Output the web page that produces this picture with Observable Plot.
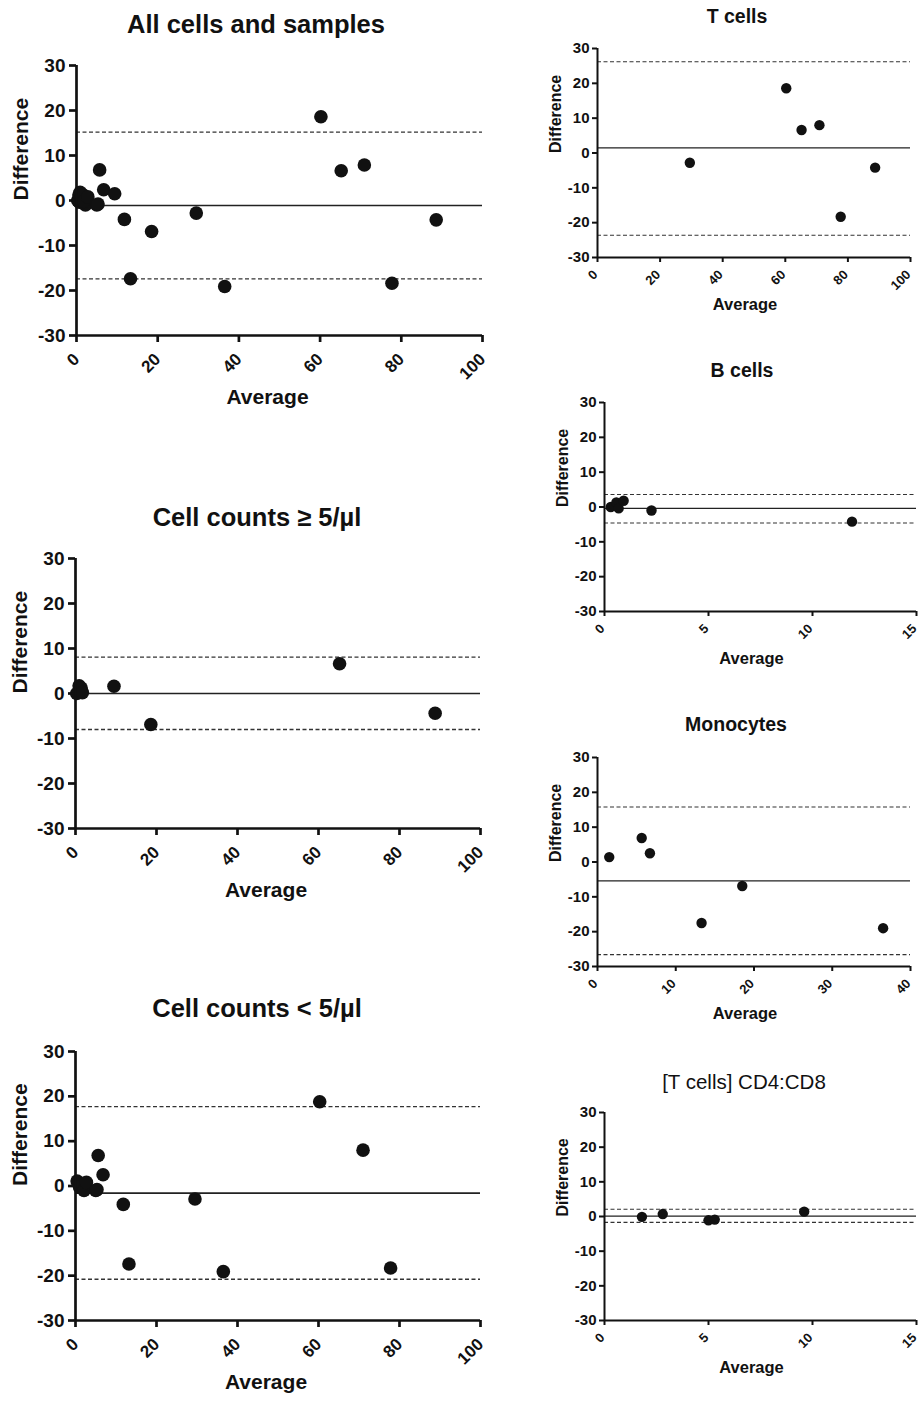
<!DOCTYPE html>
<html><head><meta charset="utf-8">
<script src="https://cdn.jsdelivr.net/npm/d3@7"></script>
<script src="https://cdn.jsdelivr.net/npm/@observablehq/plot@0.6"></script>
<style>
body{margin:0;background:#fff;}
#root{position:relative;width:922px;height:1402px;font-family:"Liberation Sans",Arial,sans-serif;color:#111;overflow:hidden;}
.title{position:absolute;transform:translate(-50%,-50%);font-weight:bold;white-space:nowrap;line-height:1;}
.panel{position:absolute;}
</style></head><body><div id="root"></div>
<script>
// ---- data ----
const panelTitles = ["All cells and samples", "Cell counts \u2265 5/\u00b5l", "Cell counts < 5/\u00b5l", "T cells", "B cells", "Monocytes", "[T cells] CD4:CD8"];

const allAvg  = [29.5, 60.2, 65.2, 70.9, 77.7, 88.6, 1.5, 5.7, 6.7, 13.3, 18.5, 36.5, 0.3, 0.6, 0.7, 0.9, 2.2, 11.8, 1.8, 2.8, 5.0, 5.3, 9.4];
const allDiff = [-2.8, 18.6, 6.6, 7.9, -18.4, -4.3, 1.3, 6.8, 2.4, -17.4, -6.9, -19.1, 0.0, 1.2, -0.4, 1.8, -1.0, -4.2, -0.2, 0.8, -1.0, -0.8, 1.5];
const allLines = [-1.1, 15.2, -17.4];

const hiAvg  = [0.3, 0.9, 1.4, 1.7, 9.5, 18.6, 65.2, 88.8];
const hiDiff = [0.0, 1.7, 1.2, 0.2, 1.6, -6.9, 6.6, -4.4];
const hiLines = [0.0, 8.1, -8.0];

const loAvg  = [0.4, 1.0, 2.1, 2.7, 5.0, 5.3, 5.6, 6.8, 11.8, 13.2, 29.5, 36.5, 60.3, 71.0, 77.8];
const loDiff = [1.1, -0.2, -1.0, 0.8, -1.0, -0.8, 6.8, 2.5, -4.1, -17.4, -2.9, -19.1, 18.8, 8.0, -18.3];
const loLines = [-1.6, 17.7, -20.8];

const tAvg  = [29.5, 60.3, 65.2, 70.9, 77.7, 88.7];
const tDiff = [-2.8, 18.6, 6.6, 8.0, -18.3, -4.2];
const tLines = [1.5, 26.2, -23.6];

const bAvg  = [0.3, 0.57, 0.68, 0.92, 2.26, 11.9];
const bDiff = [0.0, 1.3, -0.4, 1.8, -1.0, -4.2];
const bLines = [-0.4, 3.6, -4.6];

const mAvg  = [1.5, 5.65, 6.7, 13.3, 18.5, 36.5];
const mDiff = [1.4, 6.9, 2.5, -17.5, -6.9, -19.0];
const mLines = [-5.4, 15.8, -26.6];

const cAvg  = [1.8, 2.8, 5.0, 5.3, 9.6];
const cDiff = [-0.1, 0.7, -1.1, -0.9, 1.4];
const cLines = [0.1, 2.1, -1.7];

const yTicks = [-30, -20, -10, 0, 10, 20, 30];
const xTicks100 = [0, 20, 40, 60, 80, 100];
const xTicks40 = [0, 10, 20, 30, 40];
const xTicks15 = [0, 5, 10, 15];

// ---- layout ----
const panels = [
  {title: panelTitles[0], avg: allAvg, diff: allDiff, lines: allLines, xmax: 100, xticks: xTicks100, big: true,
   x0: 76, x1: 482, y0: 65, y1: 335, tx: 256, ty: 25},
  {title: panelTitles[1], avg: hiAvg, diff: hiDiff, lines: hiLines, xmax: 100, xticks: xTicks100, big: true,
   x0: 75, x1: 480, y0: 558, y1: 828, tx: 257, ty: 518},
  {title: panelTitles[2], avg: loAvg, diff: loDiff, lines: loLines, xmax: 100, xticks: xTicks100, big: true,
   x0: 75, x1: 480, y0: 1051, y1: 1320, tx: 257, ty: 1009},
  {title: panelTitles[3], avg: tAvg, diff: tDiff, lines: tLines, xmax: 100, xticks: xTicks100, big: false,
   x0: 597, x1: 910, y0: 48, y1: 257, tx: 737, ty: 17},
  {title: panelTitles[4], avg: bAvg, diff: bDiff, lines: bLines, xmax: 15, xticks: xTicks15, big: false,
   x0: 604, x1: 916, y0: 402, y1: 611, tx: 742, ty: 371},
  {title: panelTitles[5], avg: mAvg, diff: mDiff, lines: mLines, xmax: 40, xticks: xTicks40, big: false,
   x0: 597, x1: 910, y0: 757, y1: 966, tx: 736, ty: 725},
  {title: panelTitles[6], avg: cAvg, diff: cDiff, lines: cLines, xmax: 15, xticks: xTicks15, big: false, light: true,
   x0: 604, x1: 916, y0: 1112, y1: 1320, tx: 744, ty: 1082}
];

const root = document.getElementById("root");

for (const p of panels) {
  const big = p.big;
  const left = big ? 0 : 530;
  const W = big ? 500 : 392;
  const mt = 20, mb = big ? 85 : 70;
  const H = (p.y1 - p.y0) + mt + mb;
  const data = p.avg.map((a, i) => ({a, d: p.diff[i]}));
  const axisW = big ? 2.7 : 2;
  const tickLen = big ? 7 : 5;
  const plot = Plot.plot({
    width: W, height: H,
    marginLeft: p.x0 - left, marginRight: left + W - p.x1, marginTop: mt, marginBottom: mb,
    x: {domain: [0, p.xmax]},
    y: {domain: [-30, 30]},
    style: {fontFamily: "'Liberation Sans', Arial, sans-serif", fontWeight: "bold", color: "#111", background: "transparent", overflow: "visible"},
    marks: [
      Plot.ruleY([p.lines[0]], {stroke: "#222", strokeWidth: big ? 1.6 : 1.3}),
      Plot.ruleY(p.lines.slice(1), {stroke: "#333", strokeWidth: big ? 1.3 : 1.1, strokeDasharray: "4,2.5"}),
      Plot.dot(data, {x: "a", y: "d", r: big ? 6.8 : 5.2, fill: "#111"}),
      Plot.axisY({ticks: yTicks, tickSize: tickLen, tickPadding: big ? 4 : 3, fontSize: big ? 19 : 15, strokeWidth: axisW, label: null, tickFormat: d => String(d)}),
      // x tick marks only
      Plot.axisX({ticks: p.xticks, tickSize: tickLen, strokeWidth: axisW, label: null, tickFormat: () => ""}),
      // x tick labels only (rotated)
      Plot.axisX({ticks: p.xticks, tickSize: 0, tickPadding: tickLen + (big ? 14 : 10), dx: big ? 0 : -2, tickRotate: -45, textAnchor: "end", lineAnchor: "middle", fontSize: big ? 17 : 13, label: null, tickFormat: d => String(d)}),
      Plot.ruleX([0], {strokeWidth: axisW, stroke: "#111"}),
      Plot.ruleY([-30], {strokeWidth: axisW, stroke: "#111"}),
      Plot.text(["Difference"], {text: d => d, frameAnchor: "left", rotate: -90, dx: big ? -55 : -42, fontSize: big ? 21 : 16, fill: "#111"}),
      Plot.text(["Average"], {text: d => d, frameAnchor: "bottom", dy: big ? 68 : 52, dx: big ? -12 : -9, fontSize: big ? 21 : 16.5, fill: "#111"})
    ]
  });
  plot.classList.add("panel");
  plot.style.left = left + "px";
  plot.style.top = (p.y0 - mt) + "px";
  root.appendChild(plot);

  const t = document.createElement("div");
  t.className = "title";
  t.textContent = p.title;
  t.style.left = p.tx + "px";
  t.style.top = p.ty + "px";
  t.style.fontSize = (big ? 25.5 : (p.light ? 20.5 : 19.5)) + "px";
  if (p.light) t.style.fontWeight = "normal";
  root.appendChild(t);
}
</script>
</body></html>
